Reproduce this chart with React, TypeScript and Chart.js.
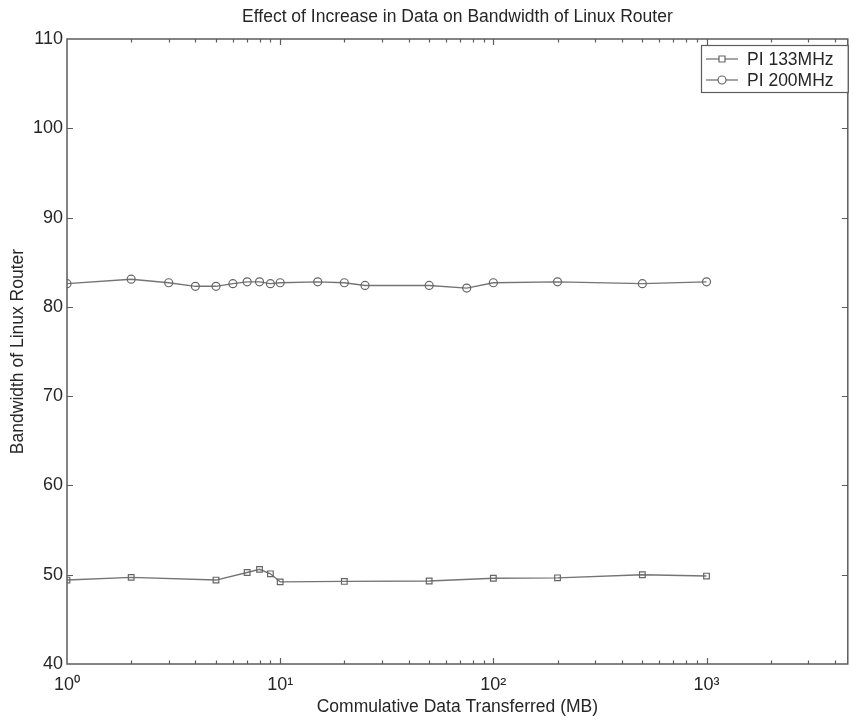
import React, { useEffect, useRef } from 'react';
import { Chart, registerables } from 'chart.js';

Chart.register(...registerables);

const chartTitle = 'Effect of Increase in Data on Bandwidth of Linux Router';
const xAxisTitle = 'Commulative Data Transferred (MB)';
const yAxisTitle = 'Bandwidth of Linux Router';
const seriesNames = ['PI 133MHz', 'PI 200MHz'];

const x133 = [1, 2, 5, 7, 8, 9, 10, 20, 50, 100, 200, 500, 1000];
const y133 = [49.4, 49.7, 49.4, 50.25, 50.6, 50.1, 49.2, 49.25, 49.3, 49.6, 49.65, 50.0, 49.85];

const x200 = [1, 2, 3, 4, 5, 6, 7, 8, 9, 10, 15, 20, 25, 50, 75, 100, 200, 500, 1000];
const y200 = [82.6, 83.1, 82.7, 82.3, 82.3, 82.6, 82.8, 82.8, 82.6, 82.7, 82.8, 82.7, 82.4, 82.4, 82.1, 82.7, 82.8, 82.6, 82.8];

const xMajorTicks = [1, 10, 100, 1000];
const xMajorLabels = ['10⁰', '10¹', '10²', '10³'];
const xMinorTicks = [2, 3, 4, 5, 6, 7, 8, 9, 20, 30, 40, 50, 60, 70, 80, 90, 200, 300, 400, 500, 600, 700, 800, 900, 2000, 3000, 4000];
const xMin = 1;
const xMax = 4600;
const yTicks = [40, 50, 60, 70, 80, 90, 100, 110];

const FONT = '"Liberation Sans", Arial, Helvetica, sans-serif';
const TEXT = '#262626';
const AXIS = '#5c5c5c';
const LINE = '#747474';

const frameAndLegend = {
  id: 'frameAndLegend',
  afterDraw(chart: any) {
    const { ctx, chartArea } = chart;
    const { left, right, top, bottom } = chartArea;
    const xs = chart.scales.x;
    const ys = chart.scales.y;
    ctx.save();
    ctx.strokeStyle = AXIS;
    ctx.lineWidth = 1.5;
    ctx.strokeRect(left, top, right - left, bottom - top);
    ctx.lineWidth = 1.2;
    ctx.beginPath();
    const allX = [...xMajorTicks.map((v) => [v, 6]), ...xMinorTicks.map((v) => [v, 3.5])];
    for (const [v, len] of allX) {
      const px = Math.round(xs.getPixelForValue(v)) + 0.5;
      if (px < left + 1 || px > right - 1) continue;
      ctx.moveTo(px, bottom);
      ctx.lineTo(px, bottom - len);
      ctx.moveTo(px, top);
      ctx.lineTo(px, top + len);
    }
    for (const v of yTicks) {
      const py = Math.round(ys.getPixelForValue(v)) + 0.5;
      if (py < top + 1 || py > bottom - 1) continue;
      ctx.moveTo(left, py);
      ctx.lineTo(left + 6, py);
      ctx.moveTo(right, py);
      ctx.lineTo(right - 6, py);
    }
    ctx.stroke();

    // legend box
    const bx = 701;
    const by = 45;
    const bw = right - bx;
    const bh = 47;
    ctx.fillStyle = '#ffffff';
    ctx.fillRect(bx, by, bw, bh);
    ctx.strokeStyle = AXIS;
    ctx.lineWidth = 1.2;
    ctx.strokeRect(bx + 0.5, by + 0.5, bw, bh);
    const rows = [59, 80];
    chart.data.datasets.forEach((ds: any, i: number) => {
      const cy = rows[i];
      ctx.strokeStyle = LINE;
      ctx.lineWidth = 1.3;
      ctx.beginPath();
      ctx.moveTo(706, cy);
      ctx.lineTo(738, cy);
      ctx.stroke();
      ctx.strokeStyle = '#666';
      ctx.lineWidth = 1.2;
      ctx.fillStyle = '#ffffff';
      ctx.beginPath();
      if (ds.pointStyle === 'rect') {
        ctx.rect(719, cy - 3, 6, 6);
      } else {
        ctx.arc(722, cy, 4, 0, Math.PI * 2);
      }
      ctx.fill();
      ctx.stroke();
      ctx.fillStyle = TEXT;
      ctx.font = `17.5px ${FONT}`;
      ctx.textAlign = 'left';
      ctx.textBaseline = 'middle';
      ctx.fillText(ds.label, 747, cy + 1);
    });
    ctx.restore();
  },
};

export default function App() {
  const canvasRef = useRef<HTMLCanvasElement | null>(null);

  useEffect(() => {
    const canvas = canvasRef.current;
    if (!canvas) return;
    Chart.defaults.font.family = FONT;
    Chart.defaults.color = TEXT;
    const chart = new Chart(canvas, {
      type: 'line',
      data: {
        datasets: [
          {
            label: seriesNames[0],
            data: x133.map((x, i) => ({ x, y: y133[i] })),
            borderColor: LINE,
            borderWidth: 1.4,
            pointStyle: 'rect',
            pointRadius: 4,
            pointBorderColor: '#666',
            pointBorderWidth: 1.2,
            pointBackgroundColor: 'rgba(255,255,255,0)',
            tension: 0,
          },
          {
            label: seriesNames[1],
            data: x200.map((x, i) => ({ x, y: y200[i] })),
            borderColor: LINE,
            borderWidth: 1.4,
            pointStyle: 'circle',
            pointRadius: 4,
            pointBorderColor: '#666',
            pointBorderWidth: 1.2,
            pointBackgroundColor: 'rgba(255,255,255,0)',
            tension: 0,
          },
        ],
      },
      options: {
        animation: false,
        responsive: false,
        devicePixelRatio: 1,
        layout: { padding: { left: 0, right: 3, top: 0, bottom: 0 } },
        plugins: {
          legend: { display: false },
          tooltip: { enabled: false },
          title: {
            display: true,
            text: chartTitle,
            fullSize: false,
            color: TEXT,
            font: { size: 17.5, weight: 'normal', family: FONT },
            padding: { top: 6.5, bottom: 11.5 },
          },
        },
        scales: {
          x: {
            type: 'logarithmic',
            min: xMin,
            max: xMax,
            afterBuildTicks: (scale: any) => {
              scale.ticks = [...xMajorTicks, ...xMinorTicks]
                .sort((a, b) => a - b)
                .map((v) => ({ value: v }));
            },
            afterFit: (scale: any) => {
              scale.height = 57;
            },
            grid: { display: false, drawTicks: false },
            border: { display: false },
            ticks: {
              autoSkip: false,
              maxRotation: 0,
              padding: 10.2,
              color: TEXT,
              font: { size: 18, family: FONT },
              callback: (value: any) => {
                const i = xMajorTicks.indexOf(Number(value));
                return i >= 0 ? xMajorLabels[i] : '';
              },
            },
            title: {
              display: true,
              text: xAxisTitle,
              color: TEXT,
              font: { size: 17.5, family: FONT },
              padding: { top: 0, bottom: 3.5 },
            },
          },
          y: {
            type: 'linear',
            min: 40,
            max: 110,
            afterBuildTicks: (scale: any) => {
              scale.ticks = yTicks.map((v) => ({ value: v }));
            },
            afterFit: (scale: any) => {
              scale.width = 67;
            },
            grid: { display: false, drawTicks: false },
            border: { display: false },
            ticks: {
              padding: 4,
              color: TEXT,
              font: { size: 18, family: FONT },
            },
            title: {
              display: true,
              text: yAxisTitle,
              color: TEXT,
              font: { size: 17.5, family: FONT },
              padding: { top: 7.5, bottom: 0 },
            },
          },
        },
      },
      plugins: [frameAndLegend],
    });
    return () => {
      chart.destroy();
    };
  }, []);

  return (
    <div style={{ position: 'absolute', left: 0, top: 0, width: 853, height: 721, background: '#fff' }}>
      <canvas ref={canvasRef} width={853} height={721} style={{ display: 'block', width: 853, height: 721 }} />
    </div>
  );
}
